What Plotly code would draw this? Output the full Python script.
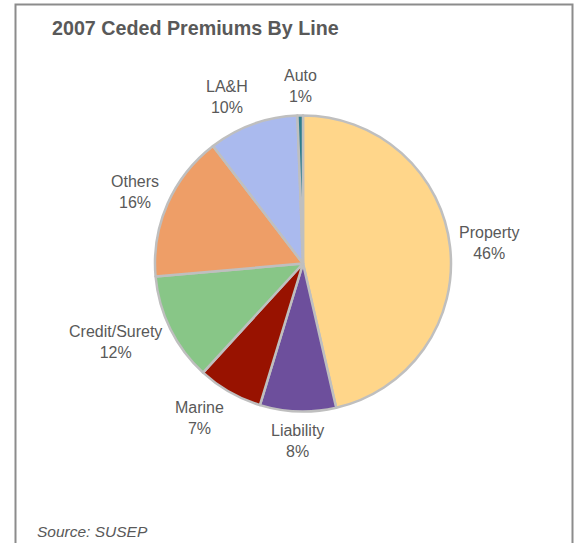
import math
import plotly.graph_objects as go

# ---- data ----
categories = ["Property", "Liability", "Marine", "Credit/Surety", "Others", "LA&H", "Auto"]
shares = [46.4, 8.3, 7.1, 11.8, 16.0, 9.8, 0.6]
colors = ["#FFD68A", "#6D4F9C", "#981200", "#88C687", "#EE9E67", "#AABAEE", "#2E7D8C"]
title_text = "2007 Ceded Premiums By Line"
source_text = "Source: SUSEP"

W, H = 579, 543
cx, cy, R = 303.0, 263.5, 148.0
FONT = "Liberation Sans, Arial, sans-serif"
TXT = "#595959"
LABEL_SIZE = 16
BLOCK_H = 44.0

fig = go.Figure()
fig.add_trace(go.Pie(
    labels=categories, values=shares, sort=False, direction="clockwise", rotation=0,
    marker=dict(colors=colors, line=dict(color="#BFBFBF", width=2.5)),
    textinfo="none", hoverinfo="label+percent", showlegend=False,
    domain=dict(x=[(cx - R) / W, (cx + R) / W], y=[1 - (cy + R) / H, 1 - (cy - R) / H]),
))

total = sum(shares)
anns = []
cum = 0.0
for lab, v in zip(categories, shares):
    mid = (cum + v / 2) / total * 2 * math.pi
    cum += v
    s, c = math.sin(mid), math.cos(mid)
    d = R * 1.05
    px, py = cx + d * s, cy - d * c
    xa = "left" if s > 0.3 else ("right" if s < -0.3 else "center")
    pct = round(v / total * 100)
    anns.append(dict(
        x=px / W, y=1 - py / H, xref="paper", yref="paper", xanchor=xa, yanchor="middle",
        yshift=c * BLOCK_H / 2,
        text=f"{lab}<br>{pct}%", showarrow=False, align="center",
        font=dict(family=FONT, size=LABEL_SIZE, color=TXT),
    ))

anns.append(dict(x=50 / W, y=1 - 28 / H, xref="paper", yref="paper", xanchor="left", yanchor="middle",
                 text=f"<b>{title_text}</b>", showarrow=False,
                 font=dict(family=FONT, size=19.7, color=TXT)))
anns.append(dict(x=35 / W, y=1 - 531 / H, xref="paper", yref="paper", xanchor="left", yanchor="middle",
                 text=f"<i>{source_text}</i>", showarrow=False,
                 font=dict(family=FONT, size=15.5, color=TXT)))

fig.update_layout(
    width=W, height=H, margin=dict(l=0, r=0, t=0, b=0),
    paper_bgcolor="white", plot_bgcolor="white",
    annotations=anns,
    shapes=[dict(type="rect", xref="paper", yref="paper",
                 x0=15.5 / W, x1=572.5 / W, y0=1 - 560 / H, y1=1 - 4.5 / H,
                 line=dict(color="#8C8C8C", width=2), fillcolor="rgba(0,0,0,0)", layer="below")],
)

fig.write_html("out.html")
